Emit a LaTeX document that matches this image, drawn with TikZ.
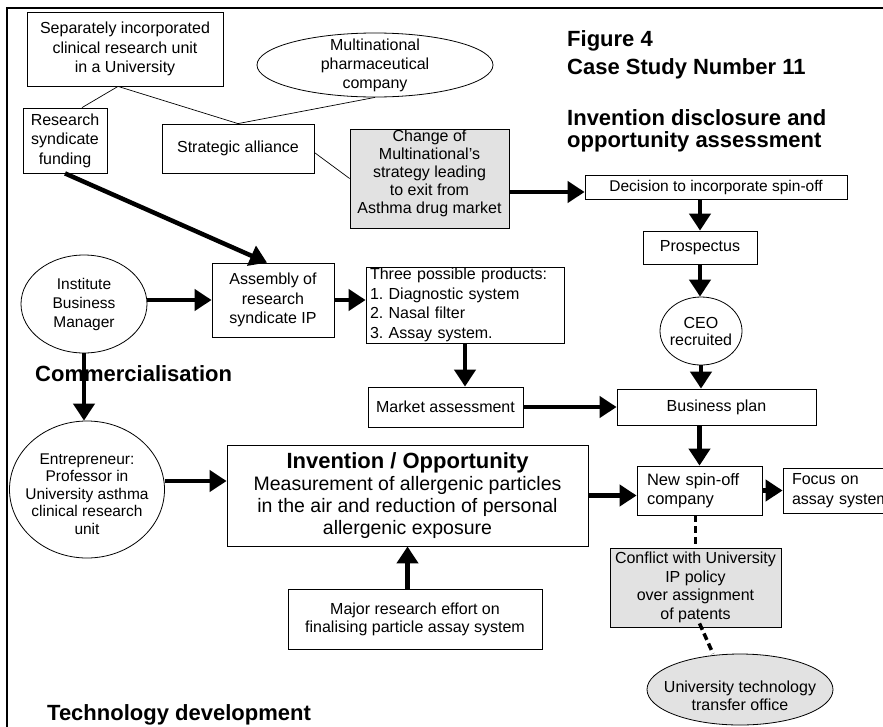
\documentclass[tikz,border=0pt]{standalone}
\usepackage{fontspec}
\setmainfont{Liberation Sans}
\usetikzlibrary{arrows.meta,shapes.geometric}
\definecolor{boxgray}{RGB}{226,226,226}
\frenchspacing
\tikzset{
  box/.style={draw, line width=0.8pt, fill=white, inner sep=0pt, align=center,
    font=\fontsize{16}{19.5}\selectfont},
  shaded/.style={box, fill=boxgray},
  oval/.style={ellipse, draw, line width=0.8pt, fill=white, inner sep=0pt},
  txt/.style={align=center, inner sep=0pt, font=\fontsize{16}{19}\selectfont},
  heading/.style={font=\fontsize{22}{26}\selectfont\bfseries, inner sep=0pt, anchor=base west},
  flow/.style={line width=4.5pt, -{Triangle[length=17pt,width=21pt]}},
  link/.style={line width=0.7pt},
  conflict/.style={line width=3.5pt, dash pattern=on 7pt off 4pt},
}
\begin{document}
\begin{tikzpicture}[x=1pt,y=-1pt]
\clip (0,0) rectangle (883,726);
\fill[white] (0,0) rectangle (883,726);
% open frame: top and left edges
\draw[line width=2pt] (7,740) -- (7,8) -- (900,8);

% --- upper left: funding and alliance ---
\node[box, minimum width=196pt, minimum height=74pt] (sep) at (125,49)
  {Separately incorporated\\clinical research unit\\in a University};
\node[oval, minimum width=236pt, minimum height=64pt,
  label={[txt]center:Multinational\\pharmaceutical\\company}] (mnc) at (375,65) {};
\node[box, minimum width=84pt, minimum height=65pt] (rsf) at (65,140.5)
  {Research\\syndicate\\funding};
\node[box, minimum width=152pt, minimum height=49pt] (sta) at (238,148.5)
  {Strategic alliance};
\node[shaded, minimum width=159pt, minimum height=99pt,
  label={[txt, yshift=5pt, font=\fontsize{16}{18}\selectfont]center:Change of\\Multinational's\\strategy leading\\to exit from\\Asthma drug market}]
  (chg) at (429.5,178.5) {};

% --- right column: spin-off path ---
\node[box, minimum width=262pt, minimum height=24pt, font=\fontsize{15.5}{18}\selectfont]
  (dec) at (716,187) {Decision to incorporate spin-off};
\node[box, minimum width=114pt, minimum height=33pt] (pro) at (700,247.5) {Prospectus};
\node[oval, minimum width=82pt, minimum height=68pt,
  label={[txt, font=\fontsize{16}{17}\selectfont]center:CEO\\recruited}] (ceo) at (701,331) {};
\node[box, minimum width=199pt, minimum height=36pt] (bpl) at (716.5,407) {Business plan};
\node[box, text width=105pt, align=left, inner xsep=10pt, minimum height=49pt,
  font=\fontsize{16.5}{19}\selectfont] (new) at (699.5,490.5) {New spin-off\\company};
\node[box, text width=99pt, align=left, inner xsep=9pt, minimum height=45pt] (foc)
  at (841.5,490.5) {Focus on\\assay system};
\node[shaded, minimum width=171pt, minimum height=79pt,
  font=\fontsize{16}{18.5}\selectfont] (cfl) at (695.5,587.5)
  {Conflict with University\\IP policy\\over assignment\\of patents};
\node[oval, fill=boxgray, minimum width=186pt, minimum height=71pt,
  label={[txt, yshift=-6pt, font=\fontsize{16}{18}\selectfont]center:University technology\\transfer office}]
  (tto) at (740,689.5) {};

% --- middle: commercialisation ---
\node[oval, minimum width=126pt, minimum height=98pt,
  label={[txt, font=\fontsize{15.5}{19}\selectfont]center:Institute\\Business\\Manager}] (ibm) at (84,304) {};
\node[box, minimum width=122pt, minimum height=74pt] (asm) at (273,300)
  {Assembly of\\research\\syndicate IP};
\node[box, text width=190pt, align=left, inner xsep=4pt, minimum height=76pt] (prd)
  at (465,305) {Three possible products:\\1. Diagnostic system\\2. Nasal filter\\3. Assay system.};
\node[box, minimum width=155pt, minimum height=40pt] (mkt) at (445.5,407) {Market assessment};
\node[heading] (com) at (35,381.5) {Commercialisation};

% --- lower part: invention and technology development ---
\node[oval, minimum width=155pt, minimum height=137pt,
  label={[txt, yshift=-4.5pt, font=\fontsize{15.5}{17.5}\selectfont]center:Entrepreneur:\\Professor in\\University asthma\\clinical research\\unit}]
  (ent) at (87,489.5) {};
\node[box, minimum width=361pt, minimum height=101pt, font=\fontsize{19.5}{22}\selectfont]
  (inv) at (407.5,495.5)
  {{\fontsize{22}{24}\selectfont\bfseries Invention / Opportunity}\\Measurement of allergenic particles\\in the air and reduction of personal\\allergenic exposure};
\node[box, minimum width=254pt, minimum height=60pt, font=\fontsize{16}{18}\selectfont]
  (maj) at (415,619) {Major research effort on\\finalising particle assay system};
\node[heading] (tec) at (47,720.7) {Technology development};

% --- titles ---
\node[heading] (fg1) at (567,46.7) {Figure 4};
\node[heading] (fg2) at (567,74) {Case Study Number 11};
\node[heading] (st1) at (567,125) {Invention disclosure and};
\node[heading] (st2) at (567,147) {opportunity assessment};

% --- thin association lines ---
\draw[link] ([xshift=-7pt]sep.south) -- ([xshift=17pt]rsf.north);
\draw[link] ([xshift=-7pt]sep.south) -- (sta.north);
\draw[link] (mnc.south) -- (sta.north);
\draw[link] ([yshift=-4pt]sta.east) -- (chg.west);

% --- heavy flow arrows ---
\draw[flow] (rsf.south) -- ([xshift=-6pt]asm.north);
\draw[flow] (ibm.east |- asm.west) -- (asm.west);
\draw[flow] (asm.east) -- (asm.east -| prd.west);
\draw[flow] (prd.south) -- (prd.south |- mkt.north);
\draw[flow] (mkt.east) -- (bpl.west);
\draw[flow] ([yshift=-13.5pt]chg.east) -- ([yshift=-5pt]dec.west);
\draw[flow] (pro.north |- dec.south) -- (pro.north);
\draw[flow] (pro.south) -- (pro.south |- ceo.north);
\draw[flow] (ceo.south) -- (ceo.south |- bpl.north);
\draw[flow] (new.north |- bpl.south) -- (new.north);
\draw[flow] (inv.east) -- (inv.east -| new.west);
\draw[flow] (new.east) -- (new.east -| foc.west);
\draw[flow] (maj.north -| inv.south) -- (inv.south);
\draw[flow] (ibm.south) -- (ibm.south |- ent.north);
\draw[flow] ([yshift=8.5pt]ent.east) -- ([yshift=8.5pt]ent.east -| inv.west);

% --- dashed conflict links ---
\draw[conflict] (cfl.north |- new.south) -- (cfl.north);
\draw[conflict] ([xshift=4pt,yshift=4pt]cfl.south) -- ([xshift=-27pt]tto.north);
\end{tikzpicture}
\end{document}
